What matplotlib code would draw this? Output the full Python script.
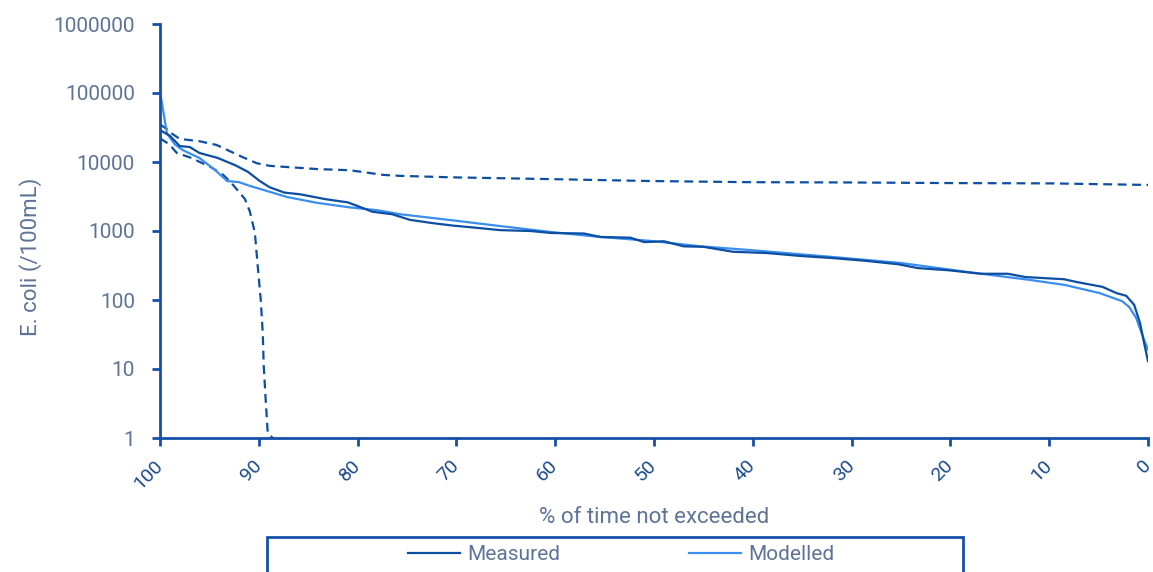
import matplotlib
matplotlib.use('Agg')
import matplotlib.pyplot as plt
from matplotlib.patches import Rectangle
from matplotlib.ticker import FixedLocator, FuncFormatter, NullLocator

plt.rcParams['font.family'] = ['Roboto', 'DejaVu Sans']

# % of time not exceeded vs E. coli concentration (/100mL)
measured_pct = [100.0, 99.0, 98.0, 97.0, 96.0, 94.2, 92.4, 91.1, 89.9, 88.9,
                87.4, 85.8, 83.3, 81.0, 80.0, 78.5, 76.5, 74.7, 72.4, 70.4,
                67.6, 65.6, 62.5, 60.4, 57.1, 55.4, 52.4, 51.0, 49.0, 47.0,
                45.0, 42.0, 38.6, 35.2, 31.9, 28.6, 25.3, 23.3, 20.2, 16.9,
                14.2, 12.4, 8.5, 7.2, 4.6, 3.2, 2.2, 1.4, 0.8, 0.4, 0.0]
measured_val = [29000, 24000, 17000, 16500, 13500, 11500, 9000, 7200, 5300, 4300,
                3600, 3400, 2900, 2600, 2300, 1900, 1750, 1450, 1300, 1200,
                1100, 1030, 1000, 935, 920, 820, 800, 690, 710, 600,
                590, 500, 480, 435, 405, 370, 330, 290, 270, 240,
                240, 215, 200, 182, 155, 126, 115, 85, 46, 24, 13]

modelled_pct = [100.0, 99.3, 98.5, 97.7, 96.0, 94.5, 93.2, 92.0, 90.9, 87.1,
                84.1, 80.8, 78.0, 75.7, 70.6, 65.6, 60.5, 55.5, 50.4, 45.3,
                40.3, 31.9, 25.1, 18.3, 11.9, 8.4, 4.9, 2.6, 1.9, 1.2, 0.5, 0.0]
modelled_val = [105000, 26000, 18000, 14900, 11400, 7800, 5300, 5100, 4500, 3100,
                2560, 2200, 2000, 1750, 1440, 1180, 970, 820, 720, 600,
                530, 420, 345, 255, 195, 165, 126, 96, 79, 55, 29, 19]

upper_pct = [100.0, 99.3, 99.0, 98.0, 96.0, 94.3, 91.6, 90.2, 88.9, 84.1,
             80.8, 77.4, 75.7, 70.6, 60.5, 50.4, 40.3, 30.1, 20.0, 9.9, 0.0]
upper_val = [35000, 30000, 27000, 21600, 20000, 17700, 11700, 9600, 8800, 7900,
             7600, 6500, 6300, 6000, 5650, 5300, 5100, 5050, 4950, 4900, 4650]

lower_pct = [100.0, 99.3, 99.0, 98.3, 97.0, 94.9, 93.6, 92.9, 92.4, 91.4,
             90.9, 90.4, 90.1, 89.8, 89.6, 89.5, 89.3, 89.1, 88.6, 88.4]
lower_val = [22000, 19000, 17700, 13500, 11700, 8500, 6500, 5200, 4300, 2900,
             1900, 950, 300, 100, 33, 11, 3.5, 1.2, 1.0, 0.95]

x_ticks = [100, 90, 80, 70, 60, 50, 40, 30, 20, 10, 0]
y_ticks = [1, 10, 100, 1000, 10000, 100000, 1000000]

dark = '#0b4ea2'
light = '#3a8ef0'
axis_col = '#1450a8'
text_col = '#5d7397'
xtick_col = '#1d4b8c'

fig = plt.figure(figsize=(11.53, 5.72), dpi=100)
ax = fig.add_axes([160 / 1153, 1 - 438 / 572, 988 / 1153, 414 / 572])

ax.plot(upper_pct, upper_val, color=dark, lw=1.6, dashes=(4, 2.5))
ax.plot(lower_pct, lower_val, color=dark, lw=1.6, dashes=(4, 2.5))
ax.plot(modelled_pct, modelled_val, color=light, lw=1.6, label='Modelled')
ax.plot(measured_pct, measured_val, color=dark, lw=1.6, label='Measured')

ax.set_yscale('log')
ax.set_ylim(1, 1000000)
ax.set_xlim(100, 0)

ax.yaxis.set_major_locator(FixedLocator(y_ticks))
ax.yaxis.set_minor_locator(NullLocator())
ax.yaxis.set_major_formatter(FuncFormatter(lambda v, pos: '%d' % round(v)))
ax.set_xticks(x_ticks)
ax.set_xticklabels([str(t) for t in x_ticks], rotation=45, ha='right',
                   va='center', rotation_mode='anchor')

for side in ['top', 'right']:
    ax.spines[side].set_visible(False)
for side in ['left', 'bottom']:
    ax.spines[side].set_color(axis_col)
    ax.spines[side].set_linewidth(2)
ax.tick_params(axis='both', colors=axis_col, width=2, length=6)
ax.tick_params(axis='y', pad=12, labelcolor=text_col, labelsize=15)
ax.tick_params(axis='x', pad=12, labelcolor=xtick_col, labelsize=14)

ax.set_xlabel('% of time not exceeded', color=text_col, fontsize=16, labelpad=10)
ax.set_ylabel('E. coli (/100mL)', color=text_col, fontsize=16)
ax.yaxis.set_label_coords((42 - 160) / 988, (438 - 257) / 414)

# legend box runs off the bottom of the figure
fig.patches.append(Rectangle((267 / 1153, -0.05), (963 - 267) / 1153,
                             0.05 + (572 - 537) / 572,
                             transform=fig.transFigure, fill=False,
                             edgecolor=axis_col, lw=2))
handles, labels = ax.get_legend_handles_labels()
leg = fig.legend(handles[::-1], labels[::-1], ncol=2, frameon=False,
                 loc='center left', bbox_to_anchor=(408 / 1153, 1 - 555 / 572),
                 fontsize=15, handlelength=2.5, handletextpad=0.34,
                 columnspacing=6.2, borderpad=0, borderaxespad=0)
for t in leg.get_texts():
    t.set_color(text_col)

fig.savefig('out.png', dpi=100)
